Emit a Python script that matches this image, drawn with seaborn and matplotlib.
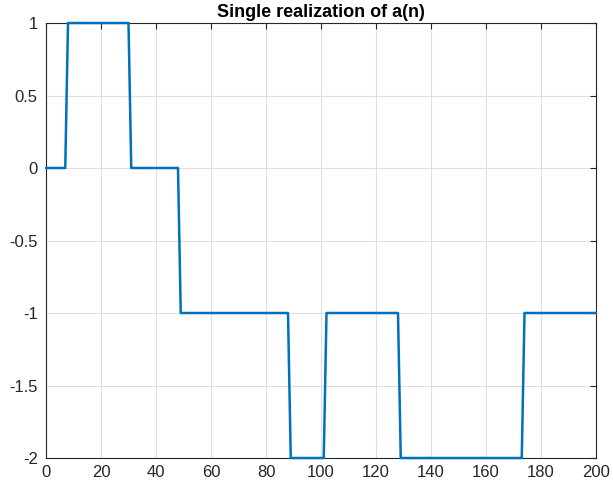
import numpy as np
import pandas as pd
import matplotlib
matplotlib.use("Agg")
import matplotlib.pyplot as plt
import seaborn as sns

# Segment data: start index of each constant run and its level
seg_start = [0, 8, 31, 49, 89, 102, 129, 174]
seg_level = [0, 1, 0, -1, -2, -1, -2, -1]
n_end = 200

title = "Single realization of a(n)"
xticks = [0, 20, 40, 60, 80, 100, 120, 140, 160, 180, 200]
yticks = [-2, -1.5, -1, -0.5, 0, 0.5, 1]
ytick_labels = ["-2", "-1.5", "-1", "-0.5", "0", "0.5", "1"]

n = np.arange(0, n_end + 1)
lengths = np.diff(seg_start + [n_end + 1])
a = np.repeat(seg_level, lengths)
df = pd.DataFrame({"n": n, "a": a})

sns.set_theme(style="white")
plt.rcParams["font.family"] = ["Liberation Sans", "DejaVu Sans"]

fig = plt.figure(figsize=(6.13, 4.91), dpi=100)
ax = fig.add_axes([46 / 613, 1 - 458 / 491, (596 - 46) / 613, (458 - 23) / 491])
sns.lineplot(data=df, x="n", y="a", ax=ax, color="#0072BD", linewidth=1.8)
for line in ax.lines:
    line.set_clip_on(False)
    line.set_zorder(5)

ax.set_xlim(0, 200)
ax.set_ylim(-2, 1)
ax.set_xticks(xticks)
ax.set_xticklabels([str(t) for t in xticks])
ax.set_yticks(yticks)
ax.set_yticklabels(ytick_labels)
ax.set_xlabel("")
ax.set_ylabel("")
ax.grid(True, color="#dfdfdf", linewidth=0.8)
ax.set_axisbelow(True)
for s in ax.spines.values():
    s.set_color("#262626")
    s.set_linewidth(0.8)
ax.tick_params(direction="in", length=4, width=0.8, colors="#262626",
               top=True, right=True, labelsize=12, labelcolor="#262626")
ax.tick_params(axis="x", pad=5)
ax.tick_params(axis="y", pad=6)
ax.set_title(title, fontsize=13, fontweight="bold", color="black", pad=4)

fig.savefig("out.png", dpi=100)
